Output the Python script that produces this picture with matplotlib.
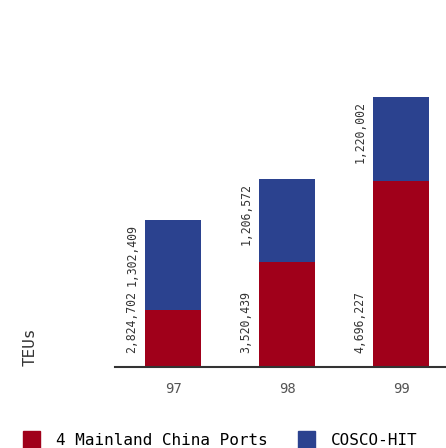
import matplotlib.pyplot as plt
from matplotlib.patches import Patch

years = ['97', '98', '99']
mainland = [2824702, 3520439, 4696227]
cosco = [1302409, 1206572, 1220002]

red = '#a0001a'
blue = '#2b428f'
mono = 'DejaVu Sans Mono'

fig = plt.figure(figsize=(4.46, 4.48), dpi=100)
ax = fig.add_axes([115 / 446, 81.3 / 448, 330 / 446, 306.7 / 448])

x = range(len(years))
ax.bar(x, mainland, width=0.49, color=red, bottom=0)
ax.bar(x, cosco, width=0.49, color=blue, bottom=mainland)
ax.set_ylim(2000000, 6448000)
ax.set_xlim(-0.509, 2.386)

for i in x:
    ax.annotate(f'{mainland[i]:,}', xy=(i, 2000000), xytext=(-29.5, 10),
                textcoords='offset points', rotation=90, ha='center',
                va='bottom', fontsize=8.3, family=mono, color='#333333')
    ax.annotate(f'{cosco[i]:,}', xy=(i, mainland[i] + cosco[i]), xytext=(-29.5, -3),
                textcoords='offset points', rotation=90, ha='center',
                va='top', fontsize=8.3, family=mono, color='#333333')

for s in ['top', 'right', 'left']:
    ax.spines[s].set_visible(False)
ax.spines['bottom'].set_color('#333333')
ax.spines['bottom'].set_linewidth(1.5)
ax.set_yticks([])
ax.set_xticks(list(x))
ax.set_xticklabels(years, family=mono, fontsize=10, color='#555555')
ax.tick_params(axis='x', length=0, pad=11)

fig.text(30 / 446, 1 - 347 / 448, 'TEUs', rotation=90, ha='center', va='center',
         family=mono, fontsize=11.5, color='#333333')

handles = [Patch(color=red, label='4 Mainland China Ports'),
           Patch(color=blue, label='COSCO-HIT')]
fig.legend(handles=handles, loc='lower left', bbox_to_anchor=(0.019, -0.032), ncol=2,
           frameon=False, prop={'family': mono, 'size': 11.5},
           handlelength=1.05, handleheight=1.3, handletextpad=1.0, columnspacing=1.95)

fig.savefig('out.png', dpi=100)
